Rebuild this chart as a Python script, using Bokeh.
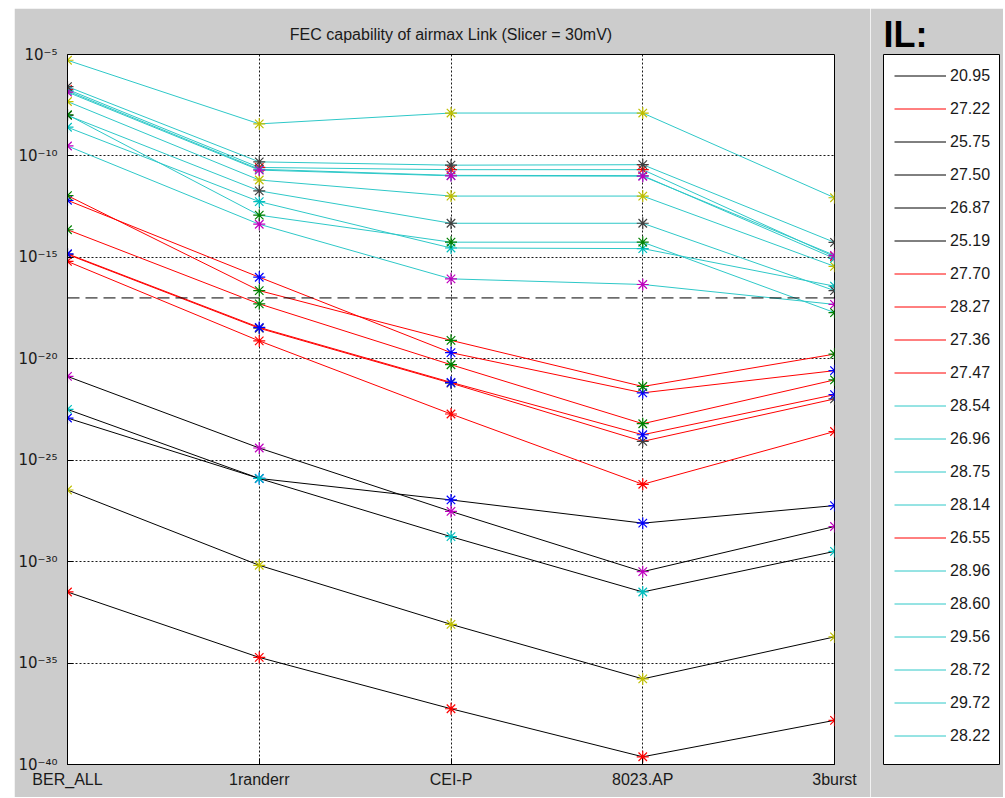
from bokeh.plotting import figure
from bokeh.models import (Range1d, FixedTicker, CustomJSTickFormatter, Span,
                          Legend, LegendItem, Spacer)
from bokeh.layouts import row, column
from bokeh.embed import file_html
from bokeh.resources import INLINE

# ---------------- data ----------------
categories = ["BER_ALL", "1randerr", "CEI-P", "8023.AP", "3burst"]
il_labels = ["20.95", "27.22", "25.75", "27.50", "26.87", "25.19", "27.70",
             "28.27", "27.36", "27.47", "28.54", "26.96", "28.75", "28.14",
             "26.55", "28.96", "28.60", "29.56", "28.72", "29.72", "28.22"]

ber_20_95 = [1.2e-23, 1.26e-26, 1.1e-27, 7.9e-29, 5.8e-28]
ber_27_22 = [2.3e-14, 5.1e-18, 5.1e-21, 6.3e-24, 9.1e-22]
ber_25_75 = [3.2e-32, 1.9e-35, 5.6e-38, 2.4e-40, 1.5e-38]
ber_27_50 = [3.2e-23, 1.26e-26, 1.7e-29, 3.2e-32, 3.2e-30]
ber_26_87 = [1.35e-21, 4.0e-25, 3.0e-28, 3.2e-31, 5.4e-29]
ber_25_19 = [3.4e-27, 6.6e-31, 8.1e-34, 1.66e-36, 1.95e-34]
ber_27_70 = [1.4e-15, 3.2e-19, 6.3e-22, 8.5e-25, 1.05e-22]
ber_28_27 = [6.5e-13, 1.05e-16, 2.0e-20, 2.1e-22, 2.6e-21]
ber_27_36 = [1.1e-12, 2.3e-17, 8.1e-20, 4.3e-22, 1.7e-20]
ber_27_47 = [6.3e-16, 7.6e-20, 1.9e-23, 6.5e-27, 2.6e-24]
ber_28_54 = [2.6e-9, 5.6e-13, 2.9e-15, 2.7e-15, 3.8e-17]
ber_26_96 = [3.1e-10, 4.3e-14, 8.7e-17, 4.6e-17, 4.8e-18]
ber_28_75 = [4.8e-8, 6.5e-12, 1.05e-12, 1.05e-12, 3.6e-16]
ber_28_14 = [1.0e-8, 1.9e-12, 4.8e-14, 4.8e-14, 2.3e-17]
ber_26_55 = [1.5e-15, 3.5e-19, 6.9e-22, 1.8e-24, 1.7e-22]
ber_28_96 = [1.07e-8, 1.2e-13, 5.6e-15, 5.6e-15, 1.9e-18]
ber_28_60 = [1.9e-7, 2.7e-11, 2.1e-11, 2.1e-11, 1.07e-15]
ber_29_56 = [1.6e-7, 2.2e-11, 1.1e-11, 1.07e-11, 8.9e-16]
ber_28_72 = [1.4e-7, 2.0e-11, 1.05e-11, 1.0e-11, 1.26e-15]
ber_29_72 = [5.2e-6, 3.8e-9, 1.3e-8, 1.3e-8, 8.7e-13]
ber_28_22 = [2.6e-7, 5.1e-11, 3.5e-11, 3.7e-11, 5.5e-15]

series = [ber_20_95, ber_27_22, ber_25_75, ber_27_50, ber_26_87, ber_25_19,
          ber_27_70, ber_28_27, ber_27_36, ber_27_47, ber_28_54, ber_26_96,
          ber_28_75, ber_28_14, ber_26_55, ber_28_96, ber_28_60, ber_29_56,
          ber_28_72, ber_29_72, ber_28_22]

line_kind = ["k", "r", "k", "k", "k", "k", "r", "r", "r", "r", "c", "c",
             "c", "c", "r", "c", "c", "c", "c", "c", "c"]
marker_order = ["b", "g", "r", "c", "m", "y", "k"]

y_ticks = [1e-40, 1e-35, 1e-30, 1e-25, 1e-20, 1e-15, 1e-10, 1e-5]
ber_limit = 1e-17
title_text = "FEC capability of airmax Link (Slicer = 30mV)"

# ---------------- styles ----------------
LINE_COL = {"k": "#000000", "r": "#ff0000", "c": "#2ec8c8"}
MARK_COL = {"b": "#0000ff", "g": "#008000", "r": "#ff0000", "c": "#00bfbf",
            "m": "#bf00bf", "y": "#bfbf00", "k": "#404040"}
GREY = "#cccccc"
FONT = "Liberation Sans"
H = 789

x = list(range(len(categories)))

p = figure(width=856, height=H, y_axis_type="log",
           x_range=Range1d(0, len(categories) - 1),
           y_range=Range1d(y_ticks[0], y_ticks[-1]),
           output_backend="svg", toolbar_location=None,
           min_border_left=53, min_border_right=36,
           min_border_top=44, min_border_bottom=31,
           title=title_text)
p.border_fill_color = GREY
p.background_fill_color = "white"
p.outline_line_color = "black"
p.outline_line_alpha = 1.0
p.title.align = "center"
p.title.text_font = FONT
p.title.text_font_size = "16px"
p.title.text_font_style = "normal"
p.title.text_color = "#1a1a1a"
p.title.standoff = 23

xt = FixedTicker(ticks=x)
yt = FixedTicker(ticks=y_ticks)
p.xaxis.ticker = xt
p.yaxis.ticker = yt
p.xgrid.ticker = xt
p.ygrid.ticker = yt
p.xaxis.major_label_overrides = {i: c for i, c in enumerate(categories)}
p.yaxis.formatter = CustomJSTickFormatter(code="""
const sup = {'-':'\u207b','0':'\u2070','1':'\u00b9','2':'\u00b2','3':'\u00b3',
             '4':'\u2074','5':'\u2075','6':'\u2076','7':'\u2077','8':'\u2078','9':'\u2079'};
const e = Math.round(Math.log10(tick));
return '10' + String(e).split('').map(c => sup[c]).join('');
""")
for ax in (p.xaxis, p.yaxis):
    ax.axis_line_color = "black"
    ax.major_tick_in = 6
    ax.major_tick_out = 0
    ax.minor_tick_line_color = None
    ax.major_tick_line_color = "black"
    ax.major_label_text_font = FONT
    ax.major_label_text_font_size = "16px"
    ax.major_label_text_color = "#1a1a1a"
p.yaxis.major_label_text_font = "DejaVu Sans"
p.yaxis.major_label_text_font_size = "15px"
p.xaxis.major_label_standoff = 6
p.yaxis.major_label_standoff = 10

p.grid.grid_line_color = "black"
p.grid.grid_line_dash = "2 2"
p.grid.grid_line_alpha = 0.9

p.add_layout(Span(location=ber_limit, dimension="width", line_color="black",
                  line_dash="12 6", line_width=1))

for i, (vals, kind) in enumerate(zip(series, line_kind)):
    mc = MARK_COL[marker_order[i % len(marker_order)]]
    p.line(x, vals, line_color=LINE_COL[kind], line_width=1)
    p.scatter(x, vals, marker="asterisk", size=12, line_color=mc, line_width=1.2)

# ---------------- legend panel ----------------
pl = figure(width=133, height=H, x_range=Range1d(0, 1), y_range=Range1d(0, 1),
            output_backend="svg", toolbar_location=None,
            x_axis_location=None, y_axis_location=None,
            min_border_left=13, min_border_right=4,
            min_border_top=46, min_border_bottom=33, title="IL:")
pl.grid.visible = False
pl.border_fill_color = GREY
pl.background_fill_color = "white"
pl.outline_line_color = "black"
pl.title.align = "left"
pl.title.text_font = FONT
pl.title.text_font_size = "36px"
pl.title.text_font_style = "bold"
pl.title.text_color = "black"
pl.title.standoff = 0

nan = float("nan")
items = []
for lab, kind in zip(il_labels, line_kind):
    r = pl.line(x=[nan, nan], y=[nan, nan], line_color=LINE_COL[kind], line_width=1)
    items.append(LegendItem(label=lab, renderers=[r]))
leg = Legend(items=items, location="top_left", margin=0, padding=11,
             spacing=12, glyph_height=21, glyph_width=52, label_height=21,
             label_standoff=4, border_line_alpha=0, background_fill_alpha=0,
             label_text_font=FONT, label_text_font_size="16px",
             label_text_color="#1a1a1a")
pl.add_layout(leg)

layout = column(Spacer(width=1003, height=8),
                row(Spacer(width=14, height=H), p, pl))
open("out.html", "w").write(file_html(layout, INLINE))
